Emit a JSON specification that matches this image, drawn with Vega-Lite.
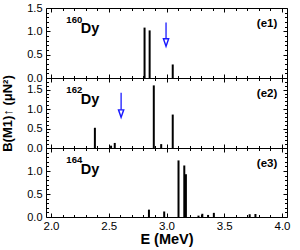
{
  "$schema": "https://vega.github.io/schema/vega-lite/v6.json",
  "padding": {"left": 0, "top": 1, "right": 5, "bottom": 0},
  "background": "white",
  "datasets": {
    "dy160": [{"E": 2.81, "B": 1.08}, {"E": 2.854, "B": 1.02}, {"E": 3.054, "B": 0.29}],
    "dy162": [{"E": 2.38, "B": 0.52}, {"E": 2.52, "B": 0.06}, {"E": 2.552, "B": 0.13}, {"E": 2.89, "B": 1.61}, {"E": 2.954, "B": 0.1}, {"E": 3.054, "B": 0.86}],
    "dy164": [{"E": 2.848, "B": 0.16}, {"E": 2.98, "B": 0.12}, {"E": 3.104, "B": 1.23}, {"E": 3.154, "B": 1.12}, {"E": 3.168, "B": 0.93}, {"E": 3.277, "B": 0.03}, {"E": 3.31, "B": 0.07}, {"E": 3.36, "B": 0.045}, {"E": 3.41, "B": 0.09}, {"E": 3.72, "B": 0.06}, {"E": 3.77, "B": 0.065}],
    "arrow160": [{"E": 2.996, "top": 1.19, "head": 0.76}],
    "arrow162": [{"E": 2.607, "top": 1.42, "head": 0.885}],
    "one": [{}]
  },
  "config": {
    "view": {"stroke": "black", "strokeWidth": 1},
    "axis": {"domain": false, "grid": false, "labelFont": "Liberation Sans", "labelFontSize": 11, "labelColor": "black", "tickColor": "black", "tickWidth": 1, "labelFlush": false, "labelOverlap": false, "labelBound": false, "titleFont": "Liberation Sans", "titleFontWeight": "bold", "titleColor": "black"}
  },
  "vconcat": [
    {
      "width": 241, "height": 70,
      "layer": [
        {"data": {"name": "dy160"}, "mark": {"type": "bar", "orient": "vertical", "size": 2, "color": "black"},
         "encoding": {
           "x": {"field": "E", "type": "quantitative", "scale": {"domain": [2, 4], "nice": false, "zero": false}, "axis": {"orient": "bottom", "values": [2, 2.5, 3, 3.5, 4], "labels": false, "tickSize": -4, "title": null}},
           "y": {"field": "B", "type": "quantitative", "scale": {"domain": [0, 1.5], "nice": false}, "axis": {"orient": "left", "values": [0, 0.5, 1, 1.5], "format": ".1f", "tickSize": -4, "labelPadding": 8, "title": null}}}},
        {"data": {"name": "dy160"}, "mark": {"type": "point", "opacity": 0},
         "encoding": {
           "x": {"field": "E", "type": "quantitative", "scale": {"domain": [2, 4], "nice": false, "zero": false}, "axis": {"orient": "bottom", "values": [2.1, 2.2, 2.3, 2.4, 2.6, 2.7, 2.8, 2.9, 3.1, 3.2, 3.3, 3.4, 3.6, 3.7, 3.8, 3.9], "labels": false, "tickSize": -2.5, "title": null}},
           "y": {"field": "B", "type": "quantitative", "scale": {"domain": [0, 1.5], "nice": false}, "axis": {"orient": "left", "values": [0.1, 0.2, 0.3, 0.4, 0.6, 0.7, 0.8, 0.9, 1.1, 1.2, 1.3, 1.4], "labels": false, "tickSize": -2.5, "title": null}}}},
        {"data": {"name": "dy160"}, "mark": {"type": "point", "opacity": 0},
         "encoding": {
           "x": {"field": "E", "type": "quantitative", "scale": {"domain": [2, 4], "nice": false, "zero": false}, "axis": {"orient": "top", "values": [2, 2.5, 3, 3.5, 4], "labels": false, "tickSize": -4, "title": null}},
           "y": {"field": "B", "type": "quantitative", "scale": {"domain": [0, 1.5], "nice": false}, "axis": {"orient": "right", "values": [0, 0.5, 1, 1.5], "labels": false, "tickSize": -4, "title": null}}}},
        {"data": {"name": "dy160"}, "mark": {"type": "point", "opacity": 0},
         "encoding": {
           "x": {"field": "E", "type": "quantitative", "scale": {"domain": [2, 4], "nice": false, "zero": false}, "axis": {"orient": "top", "values": [2.1, 2.2, 2.3, 2.4, 2.6, 2.7, 2.8, 2.9, 3.1, 3.2, 3.3, 3.4, 3.6, 3.7, 3.8, 3.9], "labels": false, "tickSize": -2.5, "title": null}},
           "y": {"field": "B", "type": "quantitative", "scale": {"domain": [0, 1.5], "nice": false}, "axis": {"orient": "right", "values": [0.1, 0.2, 0.3, 0.4, 0.6, 0.7, 0.8, 0.9, 1.1, 1.2, 1.3, 1.4], "labels": false, "tickSize": -2.5, "title": null}}}},
        {"data": {"name": "arrow160"}, "mark": {"type": "rule", "color": "#1a1aff", "strokeWidth": 1.3},
         "encoding": {
           "x": {"field": "E", "type": "quantitative", "scale": {"domain": [2, 4], "nice": false, "zero": false}, "axis": null},
           "y": {"field": "top", "type": "quantitative", "scale": {"domain": [0, 1.5], "nice": false}, "axis": null},
           "y2": {"field": "head"}}},
        {"data": {"name": "arrow160"}, "mark": {"type": "point", "shape": "M-0.7,-1L0.7,-1L0,1Z", "size": 56, "filled": true, "fill": "white", "fillOpacity": 1, "stroke": "#1a1aff", "strokeWidth": 1.4, "opacity": 1},
         "encoding": {
           "x": {"field": "E", "type": "quantitative", "scale": {"domain": [2, 4], "nice": false, "zero": false}, "axis": null},
           "y": {"field": "head", "type": "quantitative", "scale": {"domain": [0, 1.5], "nice": false}, "axis": null}}},
        {"data": {"name": "one"}, "mark": {"type": "text", "text": "160", "font": "Liberation Sans", "fontWeight": "bold", "fontSize": 9.5, "align": "left", "baseline": "middle", "color": "black"},
         "encoding": {
           "x": {"datum": 2.133, "type": "quantitative", "scale": {"domain": [2, 4], "nice": false, "zero": false}, "axis": null},
           "y": {"datum": 1.25, "type": "quantitative", "scale": {"domain": [0, 1.5], "nice": false}, "axis": null}}},
        {"data": {"name": "one"}, "mark": {"type": "text", "text": "Dy", "font": "Liberation Sans", "fontWeight": "bold", "fontSize": 14.5, "align": "left", "baseline": "middle", "color": "black"},
         "encoding": {
           "x": {"datum": 2.257, "type": "quantitative", "scale": {"domain": [2, 4], "nice": false, "zero": false}, "axis": null},
           "y": {"datum": 1.04, "type": "quantitative", "scale": {"domain": [0, 1.5], "nice": false}, "axis": null}}},
        {"data": {"name": "one"}, "mark": {"type": "text", "text": "(e1)", "font": "Liberation Sans", "fontWeight": "bold", "fontSize": 11.5, "align": "right", "baseline": "middle", "color": "black"},
         "encoding": {
           "x": {"datum": 3.959, "type": "quantitative", "scale": {"domain": [2, 4], "nice": false, "zero": false}, "axis": null},
           "y": {"datum": 1.157, "type": "quantitative", "scale": {"domain": [0, 1.5], "nice": false}, "axis": null}}}
      ],
      "resolve": {"axis": {"x": "independent", "y": "independent"}}
    },
    {
      "width": 241, "height": 70,
      "layer": [
        {"data": {"name": "dy162"}, "mark": {"type": "bar", "orient": "vertical", "size": 2, "color": "black"},
         "encoding": {
           "x": {"field": "E", "type": "quantitative", "scale": {"domain": [2, 4], "nice": false, "zero": false}, "axis": {"orient": "bottom", "values": [2, 2.5, 3, 3.5, 4], "labels": false, "tickSize": -4, "title": null}},
           "y": {"field": "B", "type": "quantitative", "scale": {"domain": [0, 1.8], "nice": false}, "axis": {"orient": "left", "values": [0, 0.5, 1, 1.5], "format": ".1f", "tickSize": -4, "labelPadding": 8, "minExtent": 22, "maxExtent": 22, "title": "B(M1)↑ (μN²)", "titleFontSize": 13, "titlePadding": 10}}}},
        {"data": {"name": "dy162"}, "mark": {"type": "point", "opacity": 0},
         "encoding": {
           "x": {"field": "E", "type": "quantitative", "scale": {"domain": [2, 4], "nice": false, "zero": false}, "axis": {"orient": "bottom", "values": [2.1, 2.2, 2.3, 2.4, 2.6, 2.7, 2.8, 2.9, 3.1, 3.2, 3.3, 3.4, 3.6, 3.7, 3.8, 3.9], "labels": false, "tickSize": -2.5, "title": null}},
           "y": {"field": "B", "type": "quantitative", "scale": {"domain": [0, 1.8], "nice": false}, "axis": {"orient": "left", "values": [0.1, 0.2, 0.3, 0.4, 0.6, 0.7, 0.8, 0.9, 1.1, 1.2, 1.3, 1.4, 1.6, 1.7], "labels": false, "tickSize": -2.5, "title": null}}}},
        {"data": {"name": "dy162"}, "mark": {"type": "point", "opacity": 0},
         "encoding": {
           "x": {"field": "E", "type": "quantitative", "scale": {"domain": [2, 4], "nice": false, "zero": false}, "axis": {"orient": "top", "values": [2, 2.5, 3, 3.5, 4], "labels": false, "tickSize": -4, "title": null}},
           "y": {"field": "B", "type": "quantitative", "scale": {"domain": [0, 1.8], "nice": false}, "axis": {"orient": "right", "values": [0, 0.5, 1, 1.5], "labels": false, "tickSize": -4, "title": null}}}},
        {"data": {"name": "dy162"}, "mark": {"type": "point", "opacity": 0},
         "encoding": {
           "x": {"field": "E", "type": "quantitative", "scale": {"domain": [2, 4], "nice": false, "zero": false}, "axis": {"orient": "top", "values": [2.1, 2.2, 2.3, 2.4, 2.6, 2.7, 2.8, 2.9, 3.1, 3.2, 3.3, 3.4, 3.6, 3.7, 3.8, 3.9], "labels": false, "tickSize": -2.5, "title": null}},
           "y": {"field": "B", "type": "quantitative", "scale": {"domain": [0, 1.8], "nice": false}, "axis": {"orient": "right", "values": [0.1, 0.2, 0.3, 0.4, 0.6, 0.7, 0.8, 0.9, 1.1, 1.2, 1.3, 1.4, 1.6, 1.7], "labels": false, "tickSize": -2.5, "title": null}}}},
        {"data": {"name": "arrow162"}, "mark": {"type": "rule", "color": "#1a1aff", "strokeWidth": 1.3},
         "encoding": {
           "x": {"field": "E", "type": "quantitative", "scale": {"domain": [2, 4], "nice": false, "zero": false}, "axis": null},
           "y": {"field": "top", "type": "quantitative", "scale": {"domain": [0, 1.8], "nice": false}, "axis": null},
           "y2": {"field": "head"}}},
        {"data": {"name": "arrow162"}, "mark": {"type": "point", "shape": "M-0.7,-1L0.7,-1L0,1Z", "size": 56, "filled": true, "fill": "white", "fillOpacity": 1, "stroke": "#1a1aff", "strokeWidth": 1.4, "opacity": 1},
         "encoding": {
           "x": {"field": "E", "type": "quantitative", "scale": {"domain": [2, 4], "nice": false, "zero": false}, "axis": null},
           "y": {"field": "head", "type": "quantitative", "scale": {"domain": [0, 1.8], "nice": false}, "axis": null}}},
        {"data": {"name": "one"}, "mark": {"type": "text", "text": "162", "font": "Liberation Sans", "fontWeight": "bold", "fontSize": 9.5, "align": "left", "baseline": "middle", "color": "black"},
         "encoding": {
           "x": {"datum": 2.133, "type": "quantitative", "scale": {"domain": [2, 4], "nice": false, "zero": false}, "axis": null},
           "y": {"datum": 1.5, "type": "quantitative", "scale": {"domain": [0, 1.8], "nice": false}, "axis": null}}},
        {"data": {"name": "one"}, "mark": {"type": "text", "text": "Dy", "font": "Liberation Sans", "fontWeight": "bold", "fontSize": 14.5, "align": "left", "baseline": "middle", "color": "black"},
         "encoding": {
           "x": {"datum": 2.257, "type": "quantitative", "scale": {"domain": [2, 4], "nice": false, "zero": false}, "axis": null},
           "y": {"datum": 1.247, "type": "quantitative", "scale": {"domain": [0, 1.8], "nice": false}, "axis": null}}},
        {"data": {"name": "one"}, "mark": {"type": "text", "text": "(e2)", "font": "Liberation Sans", "fontWeight": "bold", "fontSize": 11.5, "align": "right", "baseline": "middle", "color": "black"},
         "encoding": {
           "x": {"datum": 3.959, "type": "quantitative", "scale": {"domain": [2, 4], "nice": false, "zero": false}, "axis": null},
           "y": {"datum": 1.39, "type": "quantitative", "scale": {"domain": [0, 1.8], "nice": false}, "axis": null}}}
      ],
      "resolve": {"axis": {"x": "independent", "y": "independent"}}
    },
    {
      "width": 241, "height": 69,
      "layer": [
        {"data": {"name": "dy164"}, "mark": {"type": "bar", "orient": "vertical", "size": 2, "color": "black"},
         "encoding": {
           "x": {"field": "E", "type": "quantitative", "scale": {"domain": [2, 4], "nice": false, "zero": false}, "axis": {"orient": "bottom", "values": [2, 2.5, 3, 3.5, 4], "format": ".1f", "tickSize": -4, "labelPadding": 7, "labelFontSize": 11.5, "title": "E (MeV)", "titleFontSize": 14.5, "titlePadding": 1}},
           "y": {"field": "B", "type": "quantitative", "scale": {"domain": [0, 1.5], "nice": false}, "axis": {"orient": "left", "values": [0, 0.5, 1], "format": ".1f", "tickSize": -4, "labelPadding": 8, "title": null}}}},
        {"data": {"name": "dy164"}, "mark": {"type": "point", "opacity": 0},
         "encoding": {
           "x": {"field": "E", "type": "quantitative", "scale": {"domain": [2, 4], "nice": false, "zero": false}, "axis": {"orient": "bottom", "values": [2.1, 2.2, 2.3, 2.4, 2.6, 2.7, 2.8, 2.9, 3.1, 3.2, 3.3, 3.4, 3.6, 3.7, 3.8, 3.9], "labels": false, "tickSize": -2.5, "title": null}},
           "y": {"field": "B", "type": "quantitative", "scale": {"domain": [0, 1.5], "nice": false}, "axis": {"orient": "left", "values": [0.1, 0.2, 0.3, 0.4, 0.6, 0.7, 0.8, 0.9, 1.1, 1.2, 1.3, 1.4], "labels": false, "tickSize": -2.5, "title": null}}}},
        {"data": {"name": "dy164"}, "mark": {"type": "point", "opacity": 0},
         "encoding": {
           "x": {"field": "E", "type": "quantitative", "scale": {"domain": [2, 4], "nice": false, "zero": false}, "axis": {"orient": "top", "values": [2, 2.5, 3, 3.5, 4], "labels": false, "tickSize": -4, "title": null}},
           "y": {"field": "B", "type": "quantitative", "scale": {"domain": [0, 1.5], "nice": false}, "axis": {"orient": "right", "values": [0, 0.5, 1, 1.5], "labels": false, "tickSize": -4, "title": null}}}},
        {"data": {"name": "dy164"}, "mark": {"type": "point", "opacity": 0},
         "encoding": {
           "x": {"field": "E", "type": "quantitative", "scale": {"domain": [2, 4], "nice": false, "zero": false}, "axis": {"orient": "top", "values": [2.1, 2.2, 2.3, 2.4, 2.6, 2.7, 2.8, 2.9, 3.1, 3.2, 3.3, 3.4, 3.6, 3.7, 3.8, 3.9], "labels": false, "tickSize": -2.5, "title": null}},
           "y": {"field": "B", "type": "quantitative", "scale": {"domain": [0, 1.5], "nice": false}, "axis": {"orient": "right", "values": [0.1, 0.2, 0.3, 0.4, 0.6, 0.7, 0.8, 0.9, 1.1, 1.2, 1.3, 1.4], "labels": false, "tickSize": -2.5, "title": null}}}},
        {"data": {"name": "one"}, "mark": {"type": "text", "text": "164", "font": "Liberation Sans", "fontWeight": "bold", "fontSize": 9.5, "align": "left", "baseline": "middle", "color": "black"},
         "encoding": {
           "x": {"datum": 2.133, "type": "quantitative", "scale": {"domain": [2, 4], "nice": false, "zero": false}, "axis": null},
           "y": {"datum": 1.245, "type": "quantitative", "scale": {"domain": [0, 1.5], "nice": false}, "axis": null}}},
        {"data": {"name": "one"}, "mark": {"type": "text", "text": "Dy", "font": "Liberation Sans", "fontWeight": "bold", "fontSize": 14.5, "align": "left", "baseline": "middle", "color": "black"},
         "encoding": {
           "x": {"datum": 2.257, "type": "quantitative", "scale": {"domain": [2, 4], "nice": false, "zero": false}, "axis": null},
           "y": {"datum": 1.03, "type": "quantitative", "scale": {"domain": [0, 1.5], "nice": false}, "axis": null}}},
        {"data": {"name": "one"}, "mark": {"type": "text", "text": "(e3)", "font": "Liberation Sans", "fontWeight": "bold", "fontSize": 11.5, "align": "right", "baseline": "middle", "color": "black"},
         "encoding": {
           "x": {"datum": 3.959, "type": "quantitative", "scale": {"domain": [2, 4], "nice": false, "zero": false}, "axis": null},
           "y": {"datum": 1.15, "type": "quantitative", "scale": {"domain": [0, 1.5], "nice": false}, "axis": null}}}
      ],
      "resolve": {"axis": {"x": "independent", "y": "independent"}}
    }
  ],
  "spacing": 0,
  "bounds": "flush"
}
